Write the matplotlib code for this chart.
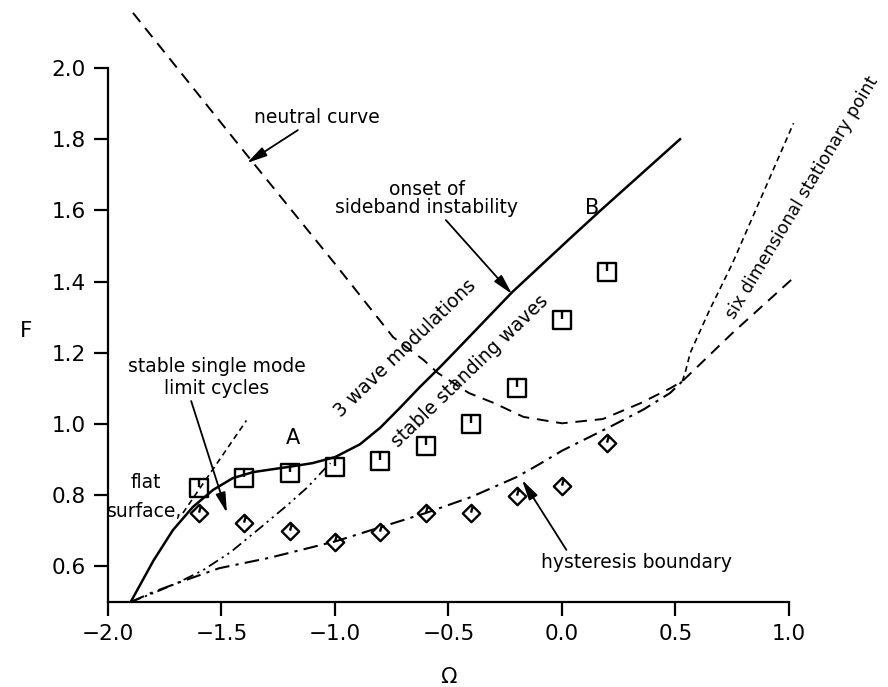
import matplotlib
matplotlib.use("Agg")
import matplotlib.pyplot as plt
from matplotlib.path import Path

# ---- data ----
solid_x = [-1.9, -1.80, -1.714, -1.626, -1.537, -1.45, -1.36, -1.21, -1.10, -1.0, -0.89,
           -0.80, -0.71, -0.626, -0.537, -0.449, -0.22, 0.05, 0.17, 0.52]
solid_y = [0.5, 0.616, 0.702, 0.767, 0.815, 0.848, 0.865, 0.879, 0.89, 0.907, 0.943,
           0.99, 1.048, 1.104, 1.16, 1.218, 1.37, 1.53, 1.60, 1.80]

neutral_x = [-1.89, -1.4, -1.0, -0.744, -0.61, -0.546, -0.41, -0.30, -0.17, 0.0, 0.18,
             0.344, 0.476, 0.53, 0.75, 1.01]
neutral_y = [2.155, 1.765, 1.45, 1.244, 1.18, 1.143, 1.087, 1.059, 1.02, 1.002, 1.014,
             1.058, 1.10, 1.12, 1.255, 1.405]

hyst_x = [-1.9, -1.8, -1.7, -1.51, -1.29, -1.0, -0.8, -0.6, -0.4, -0.2, -0.1, 0.0, 0.211,
          0.357, 0.476, 0.53]
hyst_y = [0.5, 0.528, 0.552, 0.595, 0.624, 0.67, 0.71, 0.75, 0.795, 0.851, 0.887, 0.925,
          0.992, 1.04, 1.087, 1.12]

ddot_x = [-1.9, -1.8, -1.696, -1.58, -1.46, -1.33, -1.21, -1.12, -1.05, -1.02]
ddot_y = [0.5, 0.525, 0.553, 0.59, 0.64, 0.708, 0.772, 0.823, 0.871, 0.89]

single_x = [-1.67, -1.39]
single_y = [0.75, 1.01]

sixd_x = [0.53, 0.545, 0.565, 0.65, 0.75, 0.88, 1.02]
sixd_y = [1.12, 1.15, 1.20, 1.32, 1.45, 1.64, 1.845]

sq_x = [-1.6, -1.4, -1.2, -1.0, -0.8, -0.6, -0.4, -0.2, 0.0, 0.2]
sq_y = [0.82, 0.848, 0.862, 0.878, 0.896, 0.938, 1.0, 1.10, 1.292, 1.427]

dm_x = [-1.6, -1.4, -1.2, -1.0, -0.8, -0.6, -0.4, -0.2, 0.0, 0.2]
dm_y = [0.75, 0.722, 0.70, 0.668, 0.697, 0.75, 0.75, 0.798, 0.826, 0.946]

xticks = [-2.0, -1.5, -1.0, -0.5, 0.0, 0.5, 1.0]
yticks = [0.6, 0.8, 1.0, 1.2, 1.4, 1.6, 1.8, 2.0]

# markers: open square / diamond with a small tick inside
M, L, C = Path.MOVETO, Path.LINETO, Path.CLOSEPOLY
sq_marker = Path([(-1, -1), (1, -1), (1, 1), (-1, 1), (-1, -1), (0, 1), (0, 0.1)],
                 [M, L, L, L, C, M, L])
dm_marker = Path([(0, -1), (1, 0), (0, 1), (-1, 0), (0, -1), (0.15, 0.85), (-0.05, 0.1)],
                 [M, L, L, L, C, M, L])

plt.rcParams["font.family"] = "DejaVu Sans"

fig = plt.figure(figsize=(8.88, 6.87), dpi=100)
ax = fig.add_axes([0.1216, 0.1237, 0.7669, 0.7773])

ax.plot(solid_x, solid_y, color="k", lw=1.8, solid_joinstyle="round")
ax.plot(neutral_x, neutral_y, color="k", lw=1.4, ls=(0, (6, 4)), clip_on=False)
ax.plot(hyst_x, hyst_y, color="k", lw=1.5, ls=(0, (7, 3, 1.5, 3)))
ax.plot(ddot_x, ddot_y, color="k", lw=1.3, ls=(0, (6, 2.5, 1.2, 2.5, 1.2, 2.5)))
ax.plot(single_x, single_y, color="k", lw=1.2, ls=(0, (3.5, 2.5)))
ax.plot(sixd_x, sixd_y, color="k", lw=1.2, ls=(0, (3.5, 2.5)), clip_on=False)

ax.plot(sq_x, sq_y, ls="none", marker=sq_marker, ms=12.5, mec="k", mfc="none", mew=1.7)
ax.plot(dm_x, dm_y, ls="none", marker=dm_marker, ms=12.5, mec="k", mfc="none", mew=1.7)

ax.set_xlim(-2.0, 1.0)
ax.set_ylim(0.5, 2.0)
ax.set_xticks(xticks)
ax.set_xticklabels([f"{t:.1f}".replace("-", "\u2212") for t in xticks])
ax.set_yticks(yticks)
ax.set_yticklabels([f"{t:.1f}" for t in yticks])
for s in ("top", "right"):
    ax.spines[s].set_visible(False)
for s in ("left", "bottom"):
    ax.spines[s].set_linewidth(1.6)
ax.tick_params(direction="out", length=10, width=1.6, labelsize=15.5, pad=6)

ax.text(-2.39, 1.26, "F", fontsize=15.5, ha="left", va="center")
ax.text(-0.5, 0.29, "\u03a9", fontsize=15.5, ha="center", va="center")

fs = 13.5
arrow = dict(arrowstyle="-|>,head_length=0.9,head_width=0.22", color="k", lw=1.3,
             shrinkA=0, shrinkB=0)
ax.annotate("neutral curve", xy=(-1.388, 1.733), xytext=(-1.08, 1.86),
            fontsize=fs, ha="center", va="center", arrowprops=arrow)
ax.annotate("onset of\nsideband instability", xy=(-0.22, 1.365), xytext=(-0.595, 1.633),
            fontsize=fs, ha="center", va="center", linespacing=0.95,
            arrowprops=dict(arrow, relpos=(0.59, 0.0)))
ax.annotate("stable single mode\nlimit cycles", xy=(-1.476, 0.75), xytext=(-1.52, 1.13),
            fontsize=fs, ha="center", va="center", linespacing=1.2,
            arrowprops=dict(arrow, relpos=(0.35, 0.0)))
ax.annotate("hysteresis boundary", xy=(-0.176, 0.843), xytext=(0.33, 0.612),
            fontsize=fs, ha="center", va="center",
            arrowprops=dict(arrow, relpos=(0.14, 1.0)))
ax.text(-1.835, 0.837, "flat", fontsize=fs, ha="center", va="center")
ax.text(-1.84, 0.753, "surface,", fontsize=fs, ha="center", va="center")
ax.text(-1.185, 0.96, "A", fontsize=15, ha="center", va="center")
ax.text(0.132, 1.607, "B", fontsize=15, ha="center", va="center")
ax.text(-0.69, 1.212, "3 wave modulations", fontsize=fs, rotation=44,
        ha="center", va="center", rotation_mode="anchor")
ax.text(-0.405, 1.149, "stable standing waves", fontsize=fs, rotation=44,
        ha="center", va="center", rotation_mode="anchor")
ax.text(1.06, 1.635, "six dimensional stationary point", fontsize=12.5, rotation=59,
        ha="center", va="center", rotation_mode="anchor")

fig.savefig("out.png", dpi=100)
